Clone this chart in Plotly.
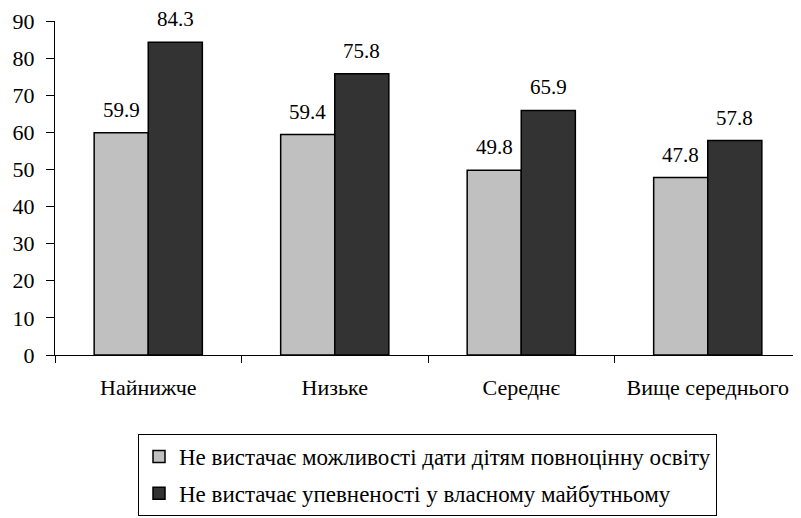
import plotly.graph_objects as go

categories = ["Найнижче", "Низьке", "Середнє", "Вище середнього"]
series_names = [
    "Не вистачає можливості дати дітям повноцінну освіту",
    "Не вистачає упевненості у власному майбутньому",
]
values_a = [59.9, 59.4, 49.8, 47.8]
values_b = [84.3, 75.8, 65.9, 57.8]
colors = ["#C0C0C0", "#333333"]

FONT = "Liberation Serif, Liberation Sans, sans-serif"

fig = go.Figure()
for i, (name, vals) in enumerate(zip(series_names, [values_a, values_b])):
    fig.add_trace(go.Bar(
        x=categories, y=vals, name=name,
        marker=dict(color=colors[i], line=dict(color="black", width=1.5)),
        legendgroup=str(i),
    ))

bar_half = 27
for i, vals in enumerate([values_a, values_b]):
    shift = -bar_half if i == 0 else bar_half
    for c, v in zip(categories, vals):
        fig.add_annotation(x=c, y=v, text=f"{v:.1f}", showarrow=False,
                           xshift=shift, yshift=9, yanchor="bottom",
                           font=dict(family=FONT, size=21, color="black"))

# figure is drawn inside the page body, which has an 8px margin
fig.update_layout(
    width=793, height=510,
    margin=dict(l=47, r=0, t=13, b=163, autoexpand=False),
    paper_bgcolor="white", plot_bgcolor="white",
    barmode="group", bargap=0.42, bargroupgap=0,
    font=dict(family=FONT, size=20, color="black"),
    showlegend=True,
    legend=dict(
        x=(130 - 47) / 746, y=-(426 - 347) / 334, xanchor="left", yanchor="top",
        bordercolor="black", borderwidth=1, bgcolor="white",
        font=dict(family=FONT, size=23, color="black"),
        tracegroupgap=4, orientation="v",
    ),
)
fig.update_xaxes(
    showline=True, linecolor="black", linewidth=1.2,
    ticks="outside", tickson="boundaries", ticklen=7, tickcolor="black",
    tickfont=dict(family=FONT, size=22), tickangle=0,
    ticklabelstandoff=12,
    showgrid=False,
)
fig.update_yaxes(
    range=[0, 90], dtick=10, showline=True, linecolor="black", linewidth=1.2,
    ticks="outside", ticklen=8, tickcolor="black",
    tickfont=dict(family=FONT, size=22),
    ticklabelstandoff=7,
    showgrid=False, zeroline=False,
)

fig.write_html("out.html")
